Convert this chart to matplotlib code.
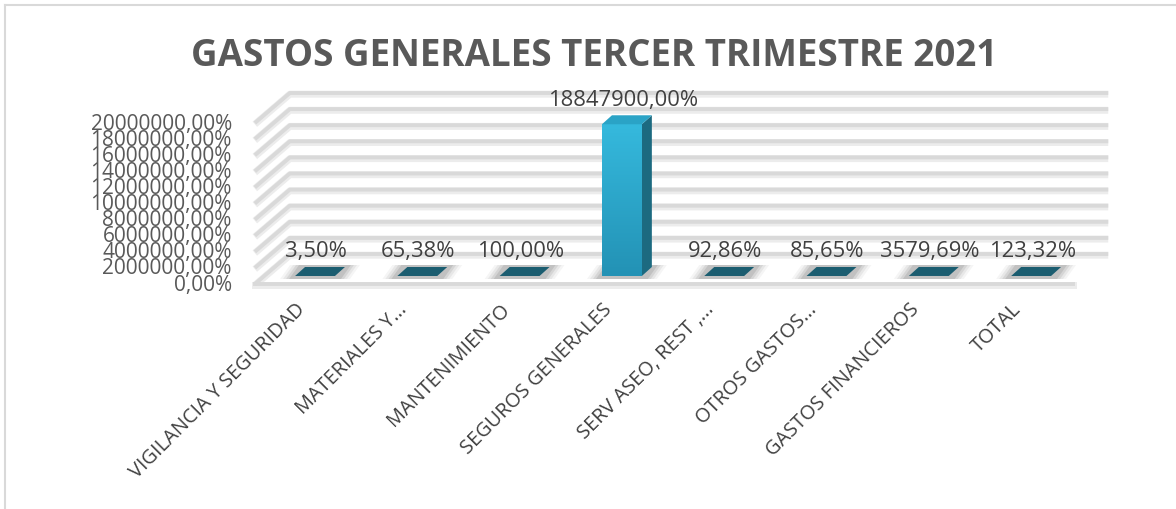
import numpy as np
import matplotlib
matplotlib.use("Agg")
import matplotlib.pyplot as plt
from matplotlib.patches import Polygon
from matplotlib.transforms import offset_copy
from matplotlib.colors import LinearSegmentedColormap

categories = ["VIGILANCIA Y SEGURIDAD", "MATERIALES Y...", "MANTENIMIENTO",
              "SEGUROS GENERALES", "SERV ASEO, REST ,...", "OTROS GASTOS...",
              "GASTOS FINANCIEROS", "TOTAL"]
values = [3.50, 65.38, 100.00, 18847900.00, 92.86, 85.65, 3579.69, 123.32]
value_labels = ["3,50%", "65,38%", "100,00%", "18847900,00%", "92,86%",
                "85,65%", "3579,69%", "123,32%"]
yticks = [0, 2000000, 4000000, 6000000, 8000000, 10000000, 12000000,
          14000000, 16000000, 18000000, 20000000]
ytick_labels = [f"{v},00%" for v in yticks]
title = "GASTOS GENERALES TERCER TRIMESTRE 2021"

W, H = 1176, 510
DPI = 100
fig = plt.figure(figsize=(W / DPI, H / DPI), dpi=DPI)
ax = fig.add_axes([0, 0, 1, 1])
ax.set_axis_off()

# scale: category spacing and value scale (front plane of bars)
px_per_cat = 102.3
x0_px = 315.0
y0_px = H - 277.0
px_per_val = 161.0 / 20000000
ax.set_xlim(-x0_px / px_per_cat, (W - x0_px) / px_per_cat)
ax.set_ylim(-y0_px / px_per_val, (H - y0_px) / px_per_val)

TEXT = "#404040"
FONT = "Open Sans"


def off(dx, dy):
    # dx, dy in pixels (dy positive = up)
    return offset_copy(ax.transData, fig=fig, x=dx, y=dy, units="dots")


def disp(x, y, dx=0, dy=0):
    X, Y = ax.transData.transform((x, y))
    return (X + dx, Y + dy)


inv = ax.transData.inverted()


def poly_px(points, **kw):
    pts = inv.transform(np.array(points))
    p = Polygon(pts, closed=True, **kw)
    ax.add_patch(p)
    return p


# depth offsets (pixels)
FRONT = (-9, -8)
BACK = (26, 22)
xl, xr = -0.5, len(categories) - 0.5

# gridlines
for v in yticks:
    fl = disp(xl, v, *FRONT)
    bl = disp(xl, v, *BACK)
    br = disp(xr, v, *BACK)
    xs = [fl[0], bl[0], br[0]]
    ys = [fl[1], bl[1], br[1]]
    pts = inv.transform(np.column_stack([xs, ys]))
    ax.plot(pts[:, 0], pts[:, 1] - (1.2 / px_per_val), color="#ececec", lw=5,
            solid_capstyle="butt", zorder=1)
    ax.plot(pts[:, 0], pts[:, 1], color="#d9d9d9", lw=2.8,
            solid_capstyle="butt", zorder=2)
# floor front edge
fl = disp(xl, 0, *FRONT)
fr = disp(xr, 0, *FRONT)
pts = inv.transform(np.array([fl, fr]))
ax.plot(pts[:, 0], pts[:, 1] - (1.2 / px_per_val), color="#ececec", lw=5, zorder=1)
ax.plot(pts[:, 0], pts[:, 1], color="#d9d9d9", lw=2.8, zorder=2)

# bars
bw = 0.39
DX, DY = 10, 9
front_cmap = LinearSegmentedColormap.from_list("f", ["#2392b5", "#35b9dd"])
for i, v in enumerate(values):
    xa, xb = i - bw / 2, i + bw / 2
    # shadow
    for k, a in [(12, 0.06), (9, 0.09), (6, 0.12), (3, 0.16)]:
        sh = [disp(xa, 0, -k - 3, -3), disp(xb, 0, k + 3, -3),
              disp(xb, 0, DX + k + 3, DY + 2), disp(xa, 0, DX - k - 3, DY + 2)]
        poly_px(sh, facecolor="#5a5a5a", edgecolor="none", alpha=a, zorder=3)
    # front face
    bars = ax.bar([i], [v], width=bw, color="#2ba7cc", linewidth=0, zorder=4)
    if v > 0:
        grad = np.linspace(0, 1, 100).reshape(-1, 1)
        im = ax.imshow(grad, cmap=front_cmap, origin="lower", aspect="auto",
                       extent=[xa, xb, 0, v], zorder=4.1)
        im.set_clip_path(bars[0])
        side = [disp(xb, 0), disp(xb, 0, DX, DY), disp(xb, v, DX, DY), disp(xb, v)]
        poly_px(side, facecolor="#1c6a80", edgecolor="none", zorder=4)
    # top face
    top = [disp(xa, v), disp(xb, v), disp(xb, v, DX, DY), disp(xa, v, DX, DY)]
    poly_px(top, facecolor="#1b5d70" if v < 1e5 else "#2aa3c6",
            edgecolor="none", zorder=5)
    # value label
    ax.text(i, v, value_labels[i], transform=off(1, 25), ha="center", va="center",
            fontsize=15.8, color=TEXT, family=FONT, zorder=6)

# y tick labels
for v, lab in zip(yticks, ytick_labels):
    ax.text(xl, v, lab, transform=off(FRONT[0] - 23, FRONT[1]), ha="right",
            va="center", fontsize=15, color="#595959", family=FONT)

# category labels
for i, c in enumerate(categories):
    ax.text(i, 0, c, transform=off(-13, -30), ha="right", va="center",
            rotation=45, rotation_mode="anchor", fontsize=14.3, color=TEXT,
            family=FONT)

# title
fig.text(0.5 * (192 + 997) / W, 1 - 56 / H, title, ha="center", va="center",
         fontsize=26.5, fontweight="bold", color="#595959", family=FONT)

# chart border
fig.add_artist(plt.Line2D([5 / W, 5 / W], [0, 1 - 6 / H], color="#d9d9d9", lw=1.5))
fig.add_artist(plt.Line2D([5 / W, 1], [1 - 6 / H, 1 - 6 / H], color="#d9d9d9", lw=1.5))

fig.savefig("out.png", dpi=DPI)
